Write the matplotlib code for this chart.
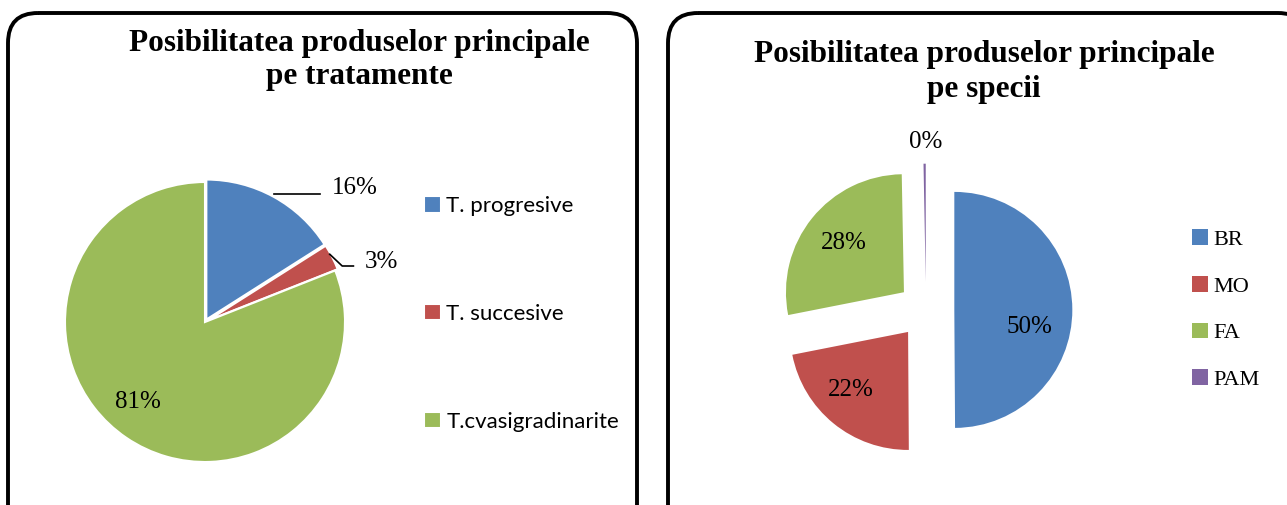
import matplotlib
matplotlib.use('Agg')
import numpy as np
import matplotlib.pyplot as plt
from matplotlib.patches import FancyBboxPatch

# date
trat_labels = ['T. progresive', 'T. succesive', 'T.cvasigradinarite']
trat_values = [16, 3, 81]
trat_pct = ['16%', '3%', '81%']

spec_labels = ['BR', 'MO', 'FA', 'PAM']
spec_values = [49.9, 22.0, 27.8, 0.3]
spec_pct = ['50%', '22%', '28%', '0%']

colors = ['#4F81BD', '#C0504D', '#9BBB59', '#8064A2']

W, H = 1287, 505
SERIF = 'Liberation Serif'
SANS = 'Lato'

fig = plt.figure(figsize=(W / 100, H / 100), dpi=100)

# fundal in coordonate pixel pentru chenare si titluri
bg = fig.add_axes([0, 0, 1, 1])
bg.set_xlim(0, W)
bg.set_ylim(H, 0)
bg.axis('off')
for x0, w in [(8, 629), (668, 640)]:
    bg.add_patch(FancyBboxPatch((x0, 13), w, 540,
                                boxstyle='round,pad=0,rounding_size=30',
                                fill=False, edgecolor='black', linewidth=2.8,
                                clip_on=False))

bg.text(359, 60, 'Posibilitatea produselor principale\npe tratamente',
        ha='center', va='center', fontfamily=SERIF, fontweight='bold',
        fontsize=22.5, linespacing=1.15)
bg.text(984, 72, 'Posibilitatea produselor principale\npe specii',
        ha='center', va='center', fontfamily=SERIF, fontweight='bold',
        fontsize=22.5, linespacing=1.25)


def pie_axes(cx, cy, r):
    ax = fig.add_axes([(cx - r) / W, (H - cy - r) / H, 2 * r / W, 2 * r / H])
    return ax


# --- pie stanga ---
ax1 = pie_axes(205, 322, 140)
wedges1, _ = ax1.pie(trat_values, colors=colors[:3], startangle=90,
                     counterclock=False, explode=[0.02, 0.02, 0],
                     wedgeprops=dict(edgecolor='white', linewidth=1.5))
ax1.set_xlim(-1, 1)
ax1.set_ylim(-1, 1)
ax1.set_aspect('equal')

# eticheta 16% cu linie
w = wedges1[0]
a = np.deg2rad((w.theta1 + w.theta2) / 2)
p0 = (1.0 * np.cos(a) + 0.01, 1.0 * np.sin(a) + 0.04)
ax1.plot([p0[0], 0.82], [p0[1], p0[1]], color='black', lw=1.2, clip_on=False)
ax1.text(1.07, 0.96, trat_pct[0], ha='center', va='center',
         fontfamily=SERIF, fontsize=18, clip_on=False)
# eticheta 3% cu linie
w = wedges1[1]
a = np.deg2rad((w.theta1 + w.theta2) / 2)
p1 = (1.0 * np.cos(a), 1.0 * np.sin(a) + 0.03)
ax1.plot([p1[0], 0.98, 1.06], [p1[1], 0.40, 0.40], color='black', lw=1.2,
         clip_on=False)
ax1.text(1.26, 0.43, trat_pct[1], ha='center', va='center',
         fontfamily=SERIF, fontsize=18, clip_on=False)
ax1.text(-0.48, -0.57, trat_pct[2], ha='center', va='center',
         fontfamily=SERIF, fontsize=18)

leg1 = bg.legend(wedges1, trat_labels, loc='center left',
                 bbox_to_anchor=(424, 314), bbox_transform=bg.transData,
                 frameon=False, prop=dict(family=SANS, size=16),
                 handlelength=0.75, handleheight=0.75, handletextpad=0.25,
                 labelspacing=3.95, borderaxespad=0, borderpad=0)
bg.add_artist(leg1)

# --- pie dreapta ---
ax2 = pie_axes(926, 310, 118)
wedges2, _ = ax2.pie(spec_values, colors=colors, startangle=90,
                     counterclock=False, explode=[0.24] * 4)
ax2.set_xlim(-1, 1)
ax2.set_ylim(-1, 1)
ax2.set_aspect('equal')
for (tx, ty), s in zip([(0.88, -0.14), (-0.64, -0.68), (-0.70, 0.57), (0.0, 1.42)],
                       spec_pct):
    ax2.text(tx, ty, s, ha='center', va='center', fontfamily=SERIF,
             fontsize=18, clip_on=False)

bg.legend(wedges2, spec_labels, loc='center left', bbox_to_anchor=(1192, 309.5),
          bbox_transform=bg.transData, frameon=False,
          prop=dict(family=SERIF, size=16), handlelength=0.7,
          handleheight=0.7, handletextpad=0.25, labelspacing=1.17,
          borderaxespad=0, borderpad=0)

fig.savefig('out.png', dpi=100)
